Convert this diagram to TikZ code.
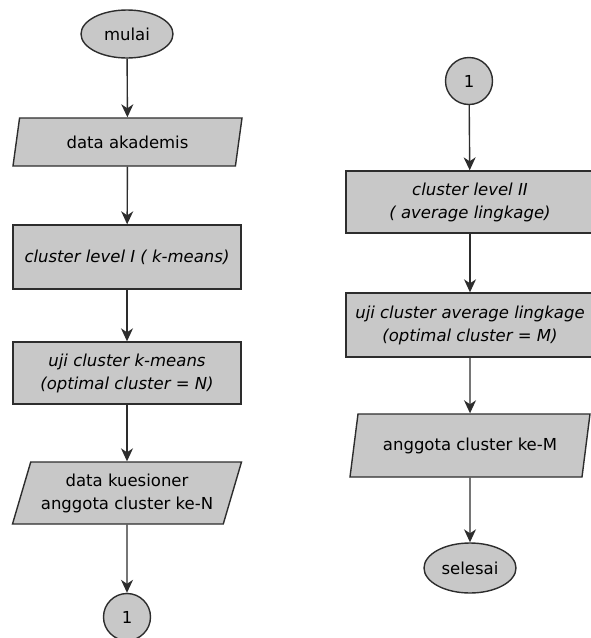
\documentclass[tikz,border=0pt]{standalone}
\usepackage{fontspec}
\setmainfont{DejaVu Sans}
\usetikzlibrary{shapes.geometric,arrows.meta}

\definecolor{isi}{RGB}{200,200,200}
\definecolor{garis}{RGB}{45,45,45}

\tikzset{
  dasar/.style={draw=garis, fill=isi, line width=1.4pt, align=center, inner sep=1pt,
    font=\fontsize{16.5}{23}\selectfont},
  terminal/.style={dasar, ellipse, minimum width=92, minimum height=48},
  konektor/.style={dasar, circle, minimum size=47},
  proses/.style={dasar, rectangle, font=\fontsize{16.5}{23}\selectfont\itshape},
  dataio/.style={dasar, trapezium, trapezium left angle=66, trapezium right angle=114,
    trapezium stretches body},
  alur/.style={draw=garis, line width=1.4pt, -{Stealth[length=13pt,width=12pt,inset=4pt,fill=garis]}}
}

\begin{document}
\begin{tikzpicture}[x=1pt,y=-1pt]
  \useasboundingbox (0,0) rectangle (590,638);
  % kolom kiri
  \node[terminal] (mulai) at (127,34) {mulai};
  \node[dataio, minimum width=229, minimum height=48] (akademis) at (127.5,142) {data akademis};
  \node[proses, minimum width=228, minimum height=64] (level1) at (127,257) {cluster level I ( k-means)};
  \node[proses, minimum width=228, minimum height=62] (uji1) at (127,373) {uji cluster k-means\\(optimal cluster = N)};
  \node[dataio, minimum width=229, minimum height=62] (kuesioner) at (127,493) {data kuesioner\\anggota cluster ke-N};
  \node[konektor] (sambung1) at (127,617) {1};
  % kolom kanan
  \node[konektor] (sambung2) at (469,81) {1};
  \node[proses, minimum width=248, minimum height=62] (level2) at (470,202) {cluster level II\\( average lingkage)};
  \node[proses, minimum width=248, minimum height=64] (uji2) at (470,325) {uji cluster average lingkage\\(optimal cluster = M)};
  \node[dataio, minimum width=240, minimum height=63] (anggota) at (470,445.5) {anggota cluster ke-M};
  \node[terminal, minimum height=50] (selesai) at (470,568) {selesai};

  \draw[alur] (mulai) -- (akademis);
  \draw[alur] (akademis) -- (level1);
  \draw[alur] (level1) -- (uji1);
  \draw[alur] (uji1) -- (kuesioner);
  \draw[alur] (kuesioner) -- (sambung1);
  \draw[alur] (sambung2) -- (level2);
  \draw[alur] (level2) -- (uji2);
  \draw[alur] (uji2) -- (anggota);
  \draw[alur] (anggota) -- (selesai);
\end{tikzpicture}
\end{document}
